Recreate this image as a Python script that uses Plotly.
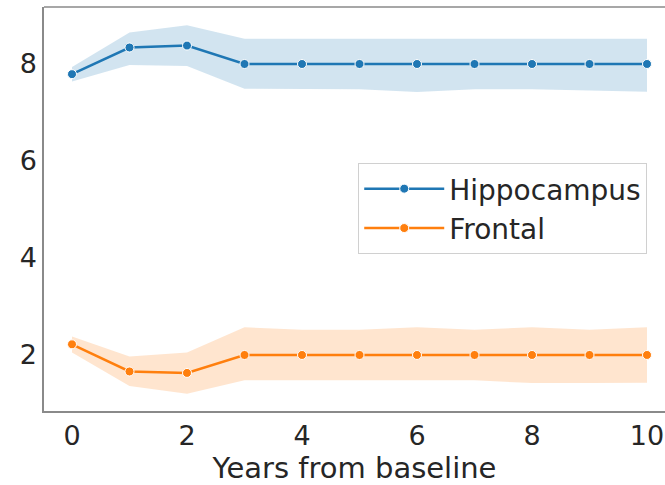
import plotly.graph_objects as go

years = [0, 1, 2, 3, 4, 5, 6, 7, 8, 9, 10]
hippo_mean = [7.79, 8.34, 8.38, 8.0, 8.0, 8.0, 8.0, 8.0, 8.0, 8.0, 8.0]
hippo_upper = [7.94, 8.65, 8.80, 8.52, 8.52, 8.52, 8.52, 8.52, 8.52, 8.52, 8.52]
hippo_lower = [7.64, 7.98, 7.96, 7.49, 7.49, 7.48, 7.42, 7.48, 7.48, 7.46, 7.43]
front_mean = [2.22, 1.66, 1.63, 2.0, 2.0, 2.0, 2.0, 2.0, 2.0, 2.0, 2.0]
front_upper = [2.38, 1.97, 2.05, 2.57, 2.52, 2.52, 2.57, 2.52, 2.57, 2.52, 2.57]
front_lower = [2.05, 1.36, 1.20, 1.48, 1.48, 1.48, 1.48, 1.48, 1.42, 1.42, 1.43]

series = [
    ("Hippocampus", hippo_mean, hippo_upper, hippo_lower, "#1f77b4", "rgba(31,119,180,0.2)"),
    ("Frontal", front_mean, front_upper, front_lower, "#ff7f0e", "rgba(255,127,14,0.2)"),
]

fig = go.Figure()
for name, mean, up, lo, col, fill in series:
    fig.add_trace(go.Scatter(x=years + years[::-1], y=up + lo[::-1], fill="toself",
                             fillcolor=fill, line=dict(width=0), hoverinfo="skip",
                             showlegend=False, mode="lines"))
for name, mean, up, lo, col, fill in series:
    fig.add_trace(go.Scatter(x=years, y=mean, name=name, mode="lines+markers",
                             line=dict(color=col, width=2.5),
                             marker=dict(size=9, color=col, line=dict(color="white", width=1))))

fig.add_shape(type="line", xref="paper", yref="paper", x0=0, x1=1, y0=1, y1=1,
              line=dict(color="#8a8a8a", width=1.5))

fig.update_layout(
    width=665, height=485,
    margin=dict(l=44, r=0, t=7, b=74),
    plot_bgcolor="white", paper_bgcolor="white",
    font=dict(family="DejaVu Sans", size=28, color="#262626"),
    xaxis=dict(range=[-0.487, 10.313], tickvals=[0, 2, 4, 6, 8, 10], showgrid=False,
               zeroline=False, showline=True, linecolor="#8a8a8a", linewidth=1.5,
               ticks="", tickfont=dict(size=27), automargin=False,
               title=dict(text="Years from baseline", font=dict(size=29), standoff=4)),
    yaxis=dict(range=[0.845, 9.175], tickvals=[2, 4, 6, 8], showgrid=False,
               zeroline=False, showline=True, linecolor="#8a8a8a", linewidth=1.5,
               ticks="", tickfont=dict(size=27), automargin=False),
    legend=dict(x=0.506, y=0.614, xanchor="left", yanchor="top",
                bordercolor="#d0d0d0", borderwidth=1, bgcolor="rgba(255,255,255,0.8)",
                font=dict(size=28, color="#262626"), itemwidth=80),
)

fig.write_html("out.html", config={"displayModeBar": False},
               post_script="document.body.style.margin='0px';")
